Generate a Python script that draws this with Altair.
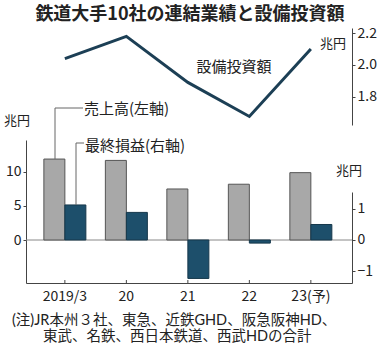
import altair as alt
import pandas as pd

years = ["2019/3", "20", "21", "22", "23(予)"]
sales = [11.9, 11.7, 7.5, 8.2, 9.9]          # 売上高 (左軸, 兆円)
profit = [1.13, 0.89, -1.24, -0.10, 0.50]     # 最終損益 (右軸, 兆円)
capex = [2.04, 2.18, 1.89, 1.675, 2.10]       # 設備投資額 (兆円)

series = ["売上高", "最終損益"]

df_sales = pd.DataFrame({"year": years, "v": sales, "s": series[0]})
df_profit = pd.DataFrame({"year": years, "v": profit, "s": series[1]})
df_capex = pd.DataFrame({"year": years, "v": capex})

W, H = 326, 255
FONT = "Noto Sans CJK JP"
NOTE_FONT = "Lato, 'Noto Sans CJK JP'"
AX = "#444444"

xscale = alt.Scale(domain=years, paddingInner=0.317, paddingOuter=0.309, align=0.47)
xaxis = alt.Axis(title="", labelAngle=0, ticks=False, labelFontSize=14,
                 labelPadding=6, labelColor="#222", domainColor=AX, labelFont=FONT)
xenc = alt.X("year:N", scale=xscale, sort=years, axis=xaxis)
xoff = alt.XOffset("s:N", scale=alt.Scale(domain=series, paddingInner=0, paddingOuter=0))

gray = alt.Chart(df_sales).mark_bar(color="#a8a8a8", stroke="#555555", strokeWidth=1).encode(
    x=xenc, xOffset=xoff,
    y=alt.Y("v:Q", scale=alt.Scale(domain=[-6.32, 14.7], range=[255, 112], nice=False, zero=False),
            axis=alt.Axis(title="", orient="left", values=[0, 5, 10], tickSize=3, labelPadding=2,
                          labelFontSize=14, labelColor="#222", domainColor=AX, tickColor=AX,
                          labelFont=FONT, grid=False)),
)
zero = alt.Chart(df_sales).mark_rule(color="#888888", strokeWidth=1).encode(
    y=alt.Y("z:Q"),
    x=alt.value(0), x2=alt.value(W),
).transform_calculate(z="0").transform_filter("datum.year == '2019/3'")
left_layer = alt.layer(zero, gray)

dark = alt.Chart(df_profit).mark_bar(color="#1d4f6b", stroke="#16384b", strokeWidth=1).encode(
    x=xenc, xOffset=xoff,
    y=alt.Y("v:Q", scale=alt.Scale(domain=[-1.387, 1.548], range=[255, 164], nice=False, zero=False),
            axis=alt.Axis(title="", orient="right", values=[-1, 0, 1], tickSize=3, labelPadding=2,
                          labelFontSize=14, labelColor="#222", domainColor=AX, tickColor=AX,
                          labelFont=FONT, grid=False)),
)

line = alt.Chart(df_capex).mark_line(color="#1c3f55", strokeWidth=3).encode(
    x=xenc,
    y=alt.Y("v:Q", scale=alt.Scale(domain=[1.621, 2.233], range=[97, 0], nice=False, zero=False),
            axis=alt.Axis(title="", orient="right", values=[1.8, 2.0, 2.2], format=".1f", tickSize=3,
                          labelPadding=2, labelFontSize=14, labelColor="#222", domainColor=AX,
                          tickColor=AX, labelFont=FONT, grid=False)),
)

xticks = alt.Chart(df_capex).mark_rule(color=AX).encode(
    x=xenc,
    y=alt.value(H - 3), y2=alt.value(H),
)

# annotations (pixel positions relative to the plot area)
ann_rows = [
    ("鉄道大手10社の連結業績と設備投資額", 164, -13, 18, "bold", "center", FONT),
    ("兆円", -9, 93, 13, "normal", "center", FONT),
    ("兆円", 323, 143, 13, "normal", "center", FONT),
    ("兆円", 307, 16, 13, "normal", "center", FONT),
    ("設備投資額", 208, 39, 15, "normal", "center", FONT),
    ("売上高(左軸)", 58, 81, 15, "normal", "left", FONT),
    ("最終損益(右軸)", 59, 118, 15, "normal", "left", FONT),
    ("(注)JR本州３社、東急、近鉄GHD、阪急阪神HD、", -14, 293, 14.5, "normal", "left", NOTE_FONT),
    ("東武、名鉄、西日本鉄道、西武HDの合計", 17, 308.5, 14.5, "normal", "left", NOTE_FONT),
]
texts = []
for t, x, y, fs, fw, al, fnt in ann_rows:
    texts.append(
        alt.Chart(df_capex.head(1)).mark_text(
            text=t, fontSize=fs, fontWeight=fw, align=al, baseline="middle",
            font=fnt, color="#222222"
        ).encode(x=alt.value(x), y=alt.value(y))
    )

leaders = []
for x1, x2, y1, y2 in [(29, 29, 131, 80), (29, 57, 80, 80), (50, 50, 177, 115), (50, 58, 115, 115)]:
    leaders.append(
        alt.Chart(df_capex.head(1)).mark_rule(color="#666666", strokeWidth=1).encode(
            x=alt.value(x1), x2=alt.value(x2), y=alt.value(y1), y2=alt.value(y2)
        )
    )

chart = alt.layer(left_layer, dark, line, xticks, *leaders, *texts).resolve_scale(
    y="independent"
).properties(
    width=W, height=H,
    autosize=alt.AutoSizeParams(type="none"),
    padding={"left": 26, "top": 28, "right": 28, "bottom": 68},
    background="white",
).configure_view(stroke=None)

chart.save("out.html", embed_options={"renderer": "svg", "actions": False})
